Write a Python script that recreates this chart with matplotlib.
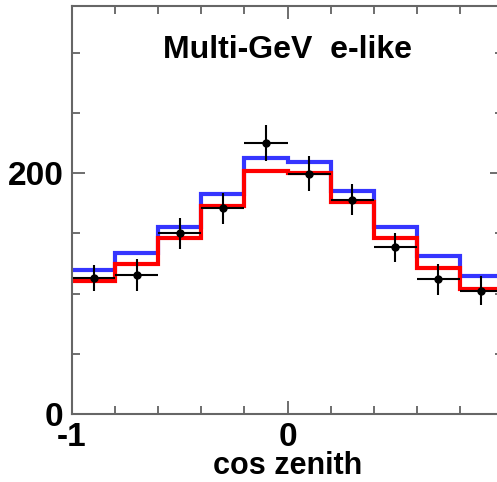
import numpy as np
from matplotlib import pyplot as plt
from matplotlib.ticker import MultipleLocator

plt.rcParams['font.family'] = ['Liberation Sans', 'DejaVu Sans']

# cos zenith binning, 10 bins from -1 to 1
edges = np.linspace(-1, 1, 11)
centers = 0.5 * (edges[:-1] + edges[1:])

# MC expectations (blue: no oscillation, red: best fit)
mc_blue = [120, 134, 155, 183, 213, 209, 185, 155.5, 131.5, 114.5]
mc_red = [110.5, 124.5, 146, 173, 202, 200, 176, 146, 121.5, 103.5]
# data points with statistical errors
data = [113, 115.5, 150, 171, 225, 199.5, 178, 138.5, 112, 102.5]
data_err = [10.5, 13, 12.5, 13, 15, 14.5, 13, 12, 13, 12]

fig = plt.figure(figsize=(4.97, 4.82), dpi=100)
# axes box runs a little past the right edge of the picture
ax = fig.add_axes([72 / 497, 68 / 482, 431 / 497, 408 / 482])

ax.stairs(mc_blue, edges, baseline=None, color='#3535ff', lw=3)
ax.stairs(mc_red, edges, baseline=None, color='#ff0000', lw=3)
ax.errorbar(centers, data, xerr=0.1, yerr=data_err, fmt='o', color='k',
            ms=5, elinewidth=1.5, capsize=0)

ax.set_xlim(-1, 1)
ax.set_ylim(0, 339)
ax.set_xticks([-1, 0, 1])
ax.set_xticklabels(['-1', '0', ''])
ax.xaxis.set_minor_locator(MultipleLocator(0.2))
ax.set_yticks([0, 200])
ax.set_yticklabels(['0', '200'])
ax.yaxis.set_minor_locator(MultipleLocator(50))

ax.tick_params(which='both', direction='in', top=True, right=True,
               color='#555555', width=1.2)
ax.tick_params(which='major', length=9.5, labelsize=24)
ax.tick_params(which='minor', length=5.5)
ax.tick_params(axis='x', which='major', pad=6)
ax.tick_params(axis='y', which='major', pad=6)
for lab in ax.get_xticklabels() + ax.get_yticklabels():
    lab.set_fontweight('bold')
for sp in ax.spines.values():
    sp.set_color('#666666')
    sp.set_linewidth(1.5)

ax.set_xlabel('cos zenith', fontsize=22, fontweight='bold', labelpad=-1.5)
ax.text(0, 296, 'Multi-GeV  e-like', ha='center', va='baseline',
        fontsize=23, fontweight='bold')

plt.savefig('out.png', dpi=100)
